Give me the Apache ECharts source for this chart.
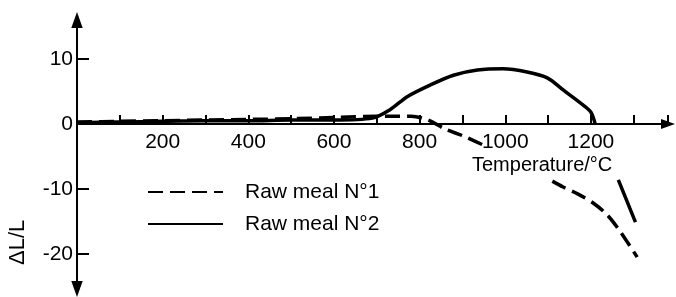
<!DOCTYPE html>
<html>
<head>
<meta charset="utf-8">
<script src="https://cdn.jsdelivr.net/npm/echarts@6/dist/echarts.min.js"></script>
<style>
html, body { margin: 0; padding: 0; background: #fff; }
#chart { width: 676px; height: 297px; }
</style>
</head>
<body>
<div id="chart"></div>
<script>
// Raw meal N°1 (dashed) - null marks where the curve is broken by the label
const temp1 = [0, 100, 200, 300, 400, 500, 600, 700, 780, 820, 860, 900, 960, null, 1110, 1135, 1170, 1206, 1238, 1269, 1308]
const dl1 = [0.3, 0.4, 0.5, 0.6, 0.7, 0.8, 1.0, 1.2, 1.2, 0.6, -0.8, -1.8, -3.6, null, -8.8, -9.7, -10.8, -12.2, -14, -16.6, -20.5]

// Raw meal N°2 (solid)
const temp2 = [0, 100, 200, 300, 400, 500, 600, 690, 731, 771, 825, 879, 935, 995, 1051, 1098, 1136, 1182, 1200, 1210, null, 1264, 1304]
const dl2 = [0.2, 0.3, 0.4, 0.5, 0.5, 0.6, 0.6, 0.9, 2.2, 4.2, 6.0, 7.5, 8.3, 8.5, 8.0, 7.1, 5.2, 2.9, 1.8, 0, null, -8.6, -15.1]

const xLabels = [200, 400, 600, 800, 1000, 1200]
const yLabels = [-20, -10, 0, 10]
const names = ['Raw meal N°1', 'Raw meal N°2']

const pairs = (xs, ys) => xs.map((x, i) => (x === null ? [null, null] : [x, ys[i]]))

const font = 'Liberation Sans'
const yMin = -25.4
const yMax = 16
const gridTop = 20
const gridBottom = 8
const plotH = 297 - gridTop - gridBottom
// x axis sits on y = 0, moved up from the grid bottom
const xOffset = -(0 - yMin) / (yMax - yMin) * plotH
// plain filled arrow head, tip up
const arrowHead = 'path://M5,0L10,14L0,14Z'

const chart = echarts.init(document.getElementById('chart'))

const option = {
  animation: false,
  backgroundColor: '#fff',
  grid: { left: 77, right: 8, top: gridTop, bottom: gridBottom, outerBoundsMode: 'none' },
  legend: {
    orient: 'vertical',
    left: 142,
    top: 176,
    itemWidth: 75,
    itemHeight: 22,
    itemGap: 10,
    data: names,
    itemStyle: { opacity: 0 },
    textStyle: { fontFamily: font, fontSize: 21, color: '#000', padding: [0, 0, 0, 17], lineHeight: 22 }
  },
  xAxis: {
    type: 'value',
    position: 'bottom',
    offset: xOffset,
    min: 0,
    max: 1380,
    interval: 100,
    splitLine: { show: false },
    axisLine: {
      onZero: false,
      symbol: ['none', arrowHead],
      symbolSize: [11, 14],
      lineStyle: { color: '#000', width: 2 }
    },
    axisTick: { show: true, inside: true, length: 9, lineStyle: { color: '#000', width: 2 } },
    axisLabel: {
      customValues: xLabels,
      formatter: v => String(v),
      margin: 8,
      color: '#000',
      fontFamily: font,
      fontSize: 21
    }
  },
  yAxis: {
    type: 'value',
    min: yMin,
    max: yMax,
    splitLine: { show: false },
    axisLine: {
      symbol: [arrowHead, arrowHead],
      symbolSize: [12, 16],
      lineStyle: { color: '#000', width: 2 }
    },
    axisTick: { show: true, customValues: yLabels, inside: true, length: 12, lineStyle: { color: '#000', width: 2 } },
    axisLabel: { customValues: yLabels, margin: 4, color: '#000', fontFamily: font, fontSize: 21 }
  },
  graphic: [
    {
      type: 'text',
      left: 472,
      top: 155,
      style: { text: 'Temperature/°C', fill: '#000', font: '20px "Liberation Sans"' }
    },
    {
      type: 'text',
      x: 7,
      y: 265,
      rotation: Math.PI / 2,
      style: { text: 'ΔL/L', fill: '#000', font: '22px "Liberation Sans"' }
    }
  ],
  series: [
    {
      name: names[0],
      type: 'line',
      data: pairs(temp1, dl1),
      smooth: 0.3,
      symbol: 'none',
      connectNulls: false,
      lineStyle: { color: '#000', width: 3.5, type: [15, 7] },
      itemStyle: { color: '#000' }
    },
    {
      name: names[1],
      type: 'line',
      data: pairs(temp2, dl2),
      smooth: 0.3,
      symbol: 'none',
      connectNulls: false,
      lineStyle: { color: '#000', width: 3.5 },
      itemStyle: { color: '#000' }
    }
  ]
}
chart.setOption(option, true)
</script>
</body>
</html>
